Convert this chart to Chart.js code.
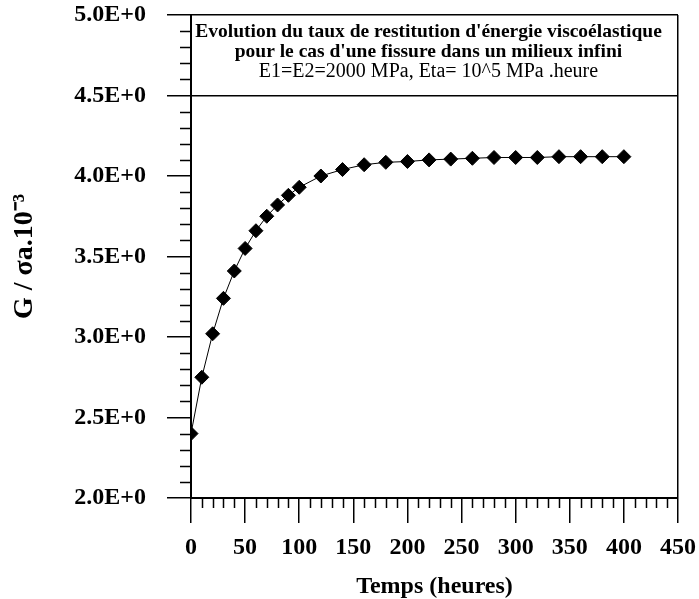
<!DOCTYPE html>
<html>
<head>
<meta charset="utf-8">
<script src="https://cdn.jsdelivr.net/npm/chart.js@4/dist/chart.umd.min.js"></script>
<style>
html,body{margin:0;padding:0;background:#fff;}
#wrap{width:699px;height:599px;position:relative;}
</style>
</head>
<body>
<div id="wrap"><canvas id="c" width="699" height="599"></canvas></div>
<script>
// ---- data ----
const times = [0,10,20,30,40,50,60,70,80,90,100,120,140,160,180,200,220,240,260,280,300,320,340,360,380,400];
const gValues = [2.40,2.75,3.02,3.24,3.41,3.55,3.66,3.75,3.82,3.88,3.93,4.00,4.04,4.07,4.085,4.09,4.10,4.105,4.11,4.115,4.115,4.115,4.12,4.12,4.12,4.12];
const titleLines = [
  "Evolution du taux de restitution d'énergie viscoélastique",
  "pour le cas d'une fissure dans un milieux infini",
  "E1=E2=2000 MPa, Eta= 10^5 MPa .heure"
];
const xAxisTitle = "Temps (heures)";
const yAxisTitle = "G / σa.10⁻³";
const xRange = [0, 450];
const yRange = [2.0, 5.0];
const xMajorStep = 50, xMinorStep = 10;
const yMajorStep = 0.5, yMinorStep = 0.1;
const titleBoxBottom = 4.5;

const SERIF = "'Liberation Serif', 'Times New Roman', serif";

const minorTicks = {
  id: 'minorTicks',
  afterDraw(chart) {
    const {ctx, chartArea: a} = chart;
    const xs = chart.scales.x, ys = chart.scales.y;
    ctx.save();
    ctx.strokeStyle = '#000';
    ctx.lineWidth = 1.5;
    ctx.beginPath();
    for (let i = 0; i <= Math.round((yRange[1]-yRange[0])/yMinorStep); i++) {
      if (i % 5 === 0) continue;
      const y = Math.round(ys.getPixelForValue(yRange[0] + i*yMinorStep)) + 0.5;
      ctx.moveTo(a.left - 11, y); ctx.lineTo(a.left, y);
    }
    for (let i = 0; i <= Math.round((xRange[1]-xRange[0])/xMinorStep); i++) {
      if (i % 5 === 0) continue;
      const x = Math.round(xs.getPixelForValue(xRange[0] + i*xMinorStep)) + 0.5;
      ctx.moveTo(x, a.bottom); ctx.lineTo(x, a.bottom + 10);
    }
    ctx.stroke();
    // title box text
    const yTop = ys.getPixelForValue(yRange[1]);
    const yBot = ys.getPixelForValue(titleBoxBottom);
    const cx = (a.left + a.right)/2 - 6;
    const h = yBot - yTop;
    ctx.fillStyle = '#000';
    ctx.textAlign = 'center';
    ctx.textBaseline = 'middle';
    const sizes = [19.5, 19.5, 20];
    titleLines.forEach((t, i) => {
      ctx.font = (i < 2 ? 'bold ' : '') + sizes[i] + 'px ' + SERIF;
      ctx.fillText(t, cx, yTop + h*(0.21 + i*0.25));
    });
    ctx.restore();
  }
};

new Chart(document.getElementById('c'), {
  type: 'scatter',
  data: {
    datasets: [{
      data: times.map((t, i) => ({x: t, y: gValues[i]})),
      showLine: true,
      borderColor: '#000',
      borderWidth: 1,
      backgroundColor: '#000',
      pointStyle: 'rectRot',
      pointRadius: 7,
      pointBorderWidth: 1,
      pointBackgroundColor: '#000',
      pointBorderColor: '#000'
    }]
  },
  options: {
    responsive: false,
    animation: false,
    layout: {padding: {left: 0, right: 21, top: 15, bottom: 0}},
    plugins: {legend: {display: false}, tooltip: {enabled: false}},
    scales: {
      x: {
        type: 'linear', min: xRange[0], max: xRange[1],
        afterFit: s => { s.height = 599 - 498; s.paddingLeft = 0; s.paddingRight = 0; },
        ticks: {stepSize: xMajorStep, color: '#000', padding: 10, maxRotation: 0,
                font: {family: SERIF, size: 24, weight: 'bold', lineHeight: 1.2}},
        grid: {drawOnChartArea: true, tickLength: 25, tickWidth: 1.5, tickColor: '#000',
               lineWidth: 1.5,
               color: c => (c.tick && c.tick.value === xRange[1]) ? '#000' : 'rgba(0,0,0,0)'},
        border: {display: true, color: '#000', width: 2},
        title: {display: true, text: xAxisTitle, color: '#000', padding: {top: 0, bottom: 0},
                font: {family: SERIF, size: 24, weight: 'bold', lineHeight: 1}}
      },
      y: {
        type: 'linear', min: yRange[0], max: yRange[1],
        afterFit: s => { s.width = 191; s.paddingTop = 0; s.paddingBottom = 0; },
        ticks: {stepSize: yMajorStep, color: '#000', padding: 21,
                callback: v => v.toFixed(1) + 'E+0',
                font: {family: SERIF, size: 24, weight: 'bold', lineHeight: 1.2}},
        grid: {drawOnChartArea: true, tickLength: 24, tickWidth: 1.5, tickColor: '#000',
               lineWidth: 1.5,
               color: c => (c.tick && (c.tick.value === titleBoxBottom || c.tick.value === yRange[1])) ? '#000' : 'rgba(0,0,0,0)'},
        border: {display: true, color: '#000', width: 2},
        title: {display: true, text: yAxisTitle, color: '#000', padding: {top: 11, bottom: 0},
                font: {family: SERIF, size: 28, weight: 'bold', lineHeight: 1}}
      }
    }
  },
  plugins: [minorTicks]
});
</script>
</body>
</html>
